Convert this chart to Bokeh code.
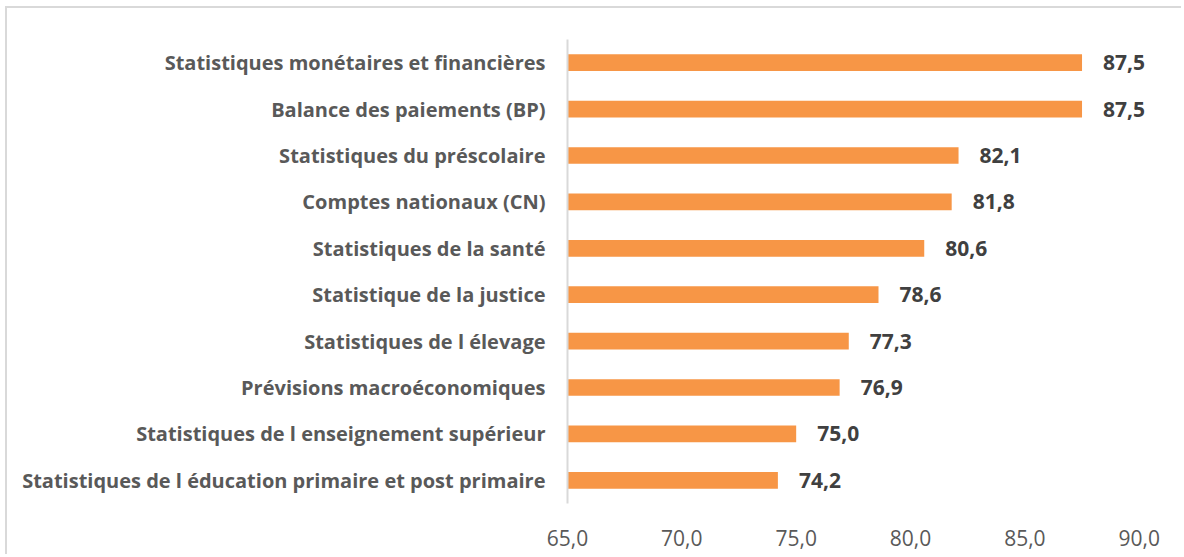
from bokeh.plotting import figure
from bokeh.models import ColumnDataSource, Range1d, FixedTicker, LabelSet
from bokeh.core.properties import value
from bokeh.embed import file_html
from bokeh.resources import INLINE

categories = [
    "Statistiques monétaires et financières",
    "Balance des paiements (BP)",
    "Statistiques du préscolaire",
    "Comptes nationaux (CN)",
    "Statistiques de la santé",
    "Statistique de la justice",
    "Statistiques de l élevage",
    "Prévisions macroéconomiques",
    "Statistiques de l enseignement supérieur",
    "Statistiques de l éducation primaire et post primaire",
]
values = [87.5, 87.5, 82.1, 81.8, 80.6, 78.6, 77.3, 76.9, 75.0, 74.2]
x_ticks = [65.0, 70.0, 75.0, 80.0, 85.0, 90.0]
x_min, x_max = 65.0, 90.0

labels = [f"{v:.1f}".replace(".", ",") for v in values]
src = ColumnDataSource(dict(cat=categories, val=values, lab=labels,
                            base=[x_min] * len(values)))

# range end padded past 90 so the value labels are not clipped by the frame
p = figure(y_range=list(reversed(categories)), x_range=Range1d(x_min, x_max + 1.5),
           width=1176, height=548, output_backend="svg", toolbar_location=None,
           min_border_left=560, min_border_right=10, min_border_top=31,
           min_border_bottom=53)
p.styles = {"border-top": "2px solid #d9d9d9", "border-left": "2px solid #d9d9d9",
            "margin-top": "6px", "margin-left": "5px"}
p.outline_line_color = None
p.background_fill_color = "white"
p.border_fill_color = "white"

p.hbar(y="cat", left="base", right="val", height=0.36, source=src,
       fill_color="#F79646", line_color=None)
lbls = LabelSet(x="val", y="cat", text="lab", source=src, x_offset=21,
                text_baseline="middle", text_align="left",
                text_font=value("Open Sans"), text_font_style="bold",
                text_font_size="21px", text_color="#404040")
p.add_layout(lbls)

p.xgrid.grid_line_color = None
p.ygrid.grid_line_color = None

p.xaxis.ticker = FixedTicker(ticks=x_ticks)
p.xaxis.major_label_overrides = {t: f"{t:.1f}".replace(".", ",") for t in x_ticks}
p.xaxis.axis_line_color = None
p.xaxis.major_tick_line_color = None
p.xaxis.minor_tick_line_color = None
p.xaxis.major_tick_out = 0
p.xaxis.major_label_text_font = "Open Sans"
p.xaxis.major_label_text_font_size = "21px"
p.xaxis.major_label_text_color = "#595959"
p.xaxis.major_label_standoff = 26

p.yaxis.axis_line_color = "#d9d9d9"
p.yaxis.axis_line_width = 2
p.yaxis.major_tick_line_color = None
p.yaxis.minor_tick_line_color = None
p.yaxis.major_tick_out = 0
p.yaxis.major_label_text_font = "Open Sans"
p.yaxis.major_label_text_font_style = "bold"
p.yaxis.major_label_text_font_size = "20px"
p.yaxis.major_label_text_color = "#595959"
p.yaxis.major_label_standoff = 22

open("out.html", "w").write(file_html(p, INLINE))
